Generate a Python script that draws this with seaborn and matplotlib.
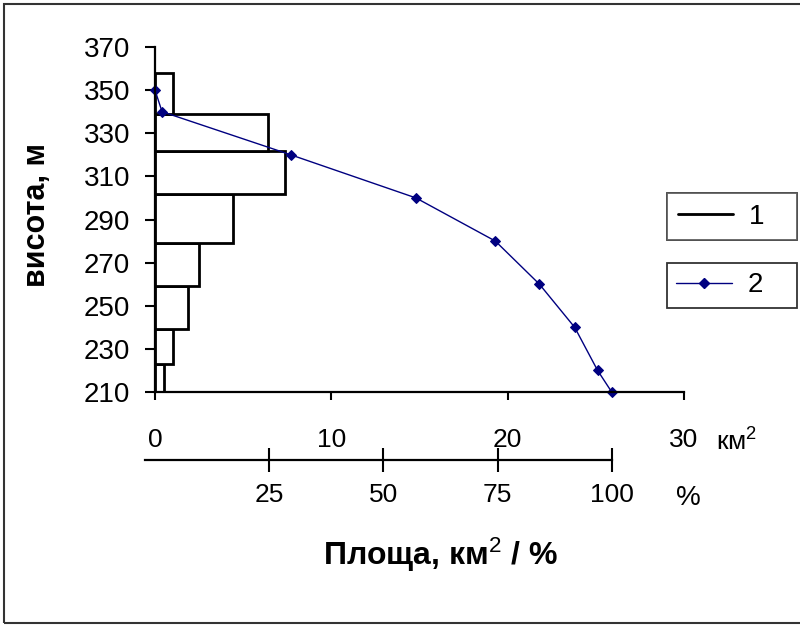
import numpy as np
import pandas as pd
import matplotlib
matplotlib.use('Agg')
import matplotlib.pyplot as plt
from matplotlib.lines import Line2D
from matplotlib.patches import Rectangle
import seaborn as sns

# elevation bands (m) and area of each band (km2) - series 1
band_edges = [210, 223, 239, 259, 279, 302, 322, 339, 358]
band_area = [0.5, 1.0, 1.85, 2.5, 4.4, 7.4, 6.4, 1.0]

# cumulative area above each elevation (km2) - series 2
curve_elev = [350, 340, 320, 300, 280, 260, 240, 220, 210]
curve_area = [0.0, 0.4, 7.7, 14.8, 19.3, 21.8, 23.8, 25.1, 25.9]

km_ticks = [0, 10, 20, 30]
pct_ticks = [25, 50, 75, 100]
elev_ticks = list(range(210, 371, 20))

W, H = 800, 625

sns.set_style('ticks')
plt.rcParams['font.family'] = ['Liberation Sans', 'DejaVu Sans']
plt.rcParams['text.color'] = 'black'
plt.rcParams['axes.labelcolor'] = 'black'
plt.rcParams['mathtext.fontset'] = 'custom'
plt.rcParams['mathtext.rm'] = 'Liberation Sans'
plt.rcParams['mathtext.it'] = 'Liberation Sans'
plt.rcParams['mathtext.bf'] = 'Liberation Sans:bold'

fig = plt.figure(figsize=(W / 100, H / 100), dpi=100)
fig.patch.set_facecolor('white')

# main axes: x 155..684 px, y 47..392 px
ax = fig.add_axes([155 / W, (H - 392) / H, 529 / W, 345 / H])

mids = [(a + b) / 2 for a, b in zip(band_edges[:-1], band_edges[1:])]
bands = pd.DataFrame({'elev': mids, 'area': band_area})
sns.histplot(data=bands, y='elev', weights='area', bins=band_edges, ax=ax,
             color='white', edgecolor='black', linewidth=2, alpha=1)

curve = pd.DataFrame({'elev': curve_elev, 'area': curve_area})
sns.lineplot(data=curve, x='area', y='elev', ax=ax, sort=False, estimator=None,
             color='#000080', lw=1, marker='D', markersize=5,
             markeredgecolor='#000080', clip_on=False, legend=False)

ax.set_xlim(0, 30)
ax.set_ylim(210, 370)
ax.set_xlabel('')
ax.set_ylabel('')
ax.set_facecolor('none')
for s in ['top', 'right']:
    ax.spines[s].set_visible(False)
for s in ['left', 'bottom']:
    ax.spines[s].set_linewidth(1.6)
    ax.spines[s].set_color('black')
ax.set_yticks(elev_ticks)
ax.set_xticks(km_ticks)
ax.tick_params(axis='y', length=7, width=1.5, pad=11, labelsize=20,
               colors='black')
ax.tick_params(axis='x', length=6, width=1.5, pad=20, labelsize=19,
               colors='black')

# percent axis below
total = curve_area[-1]
ax2 = fig.add_axes([155 / W, (H - 460) / H, 529 / W, 0.0001])
ax2.set_xlim(0, 30 / total * 100)
ax2.patch.set_visible(False)
for s in ['top', 'right', 'left']:
    ax2.spines[s].set_visible(False)
ax2.spines['bottom'].set_linewidth(1.6)
ax2.spines['bottom'].set_color('black')
ax2.spines['bottom'].set_bounds(-2.2, 100)
ax2.set_yticks([])
ax2.set_xticks(pct_ticks)
ax2.tick_params(axis='x', direction='inout', length=17, width=1.5, pad=8,
                labelsize=19, colors='black')

# unit texts
fig.text(716 / W, 1 - 451 / H, 'км$^2$', fontsize=19, ha='left', va='baseline')
fig.text(688 / W, 1 - 505 / H, '%', fontsize=20, ha='center', va='baseline')

fig.text(441 / W, 1 - 565 / H, 'Площа, км$^2$ / %', fontsize=23,
         fontweight='bold', ha='center', va='baseline')
fig.text(37 / W, 1 - 215 / H, 'висота, м', fontsize=22, fontweight='bold',
         rotation=90, ha='center', va='center')

# two separate legend boxes, each 130 px wide
h1 = Line2D([], [], color='black', lw=2)
h2 = Line2D([], [], color='#000080', lw=1, marker='D', markersize=5)
leg1 = fig.legend(handles=[h1], labels=['1'], loc='upper left', mode='expand',
                  bbox_to_anchor=(667 / W, 1 - 239 / H, 130 / W, 46 / H),
                  fontsize=20, frameon=True, fancybox=False, borderpad=0.38,
                  handlelength=2.0, handletextpad=0.55, borderaxespad=0)
leg1.get_frame().set_edgecolor('#444444')
leg1.get_frame().set_linewidth(1.3)
leg2 = fig.legend(handles=[h2], labels=['2'], loc='upper left', mode='expand',
                  bbox_to_anchor=(667 / W, 1 - 307 / H, 130 / W, 44 / H),
                  fontsize=20, frameon=True, fancybox=False, borderpad=0.34,
                  handlelength=2.0, handletextpad=0.55, borderaxespad=0)
leg2.get_frame().set_edgecolor('black')
leg2.get_frame().set_linewidth(1.3)
fig.add_artist(leg1)

# outer frame
fig.add_artist(Rectangle((4 / W, 2 / H), 800 / W, (H - 6) / H,
                         transform=fig.transFigure, fill=False,
                         edgecolor='#333333', lw=1.5))

fig.savefig('out.png', dpi=100, facecolor='white')
